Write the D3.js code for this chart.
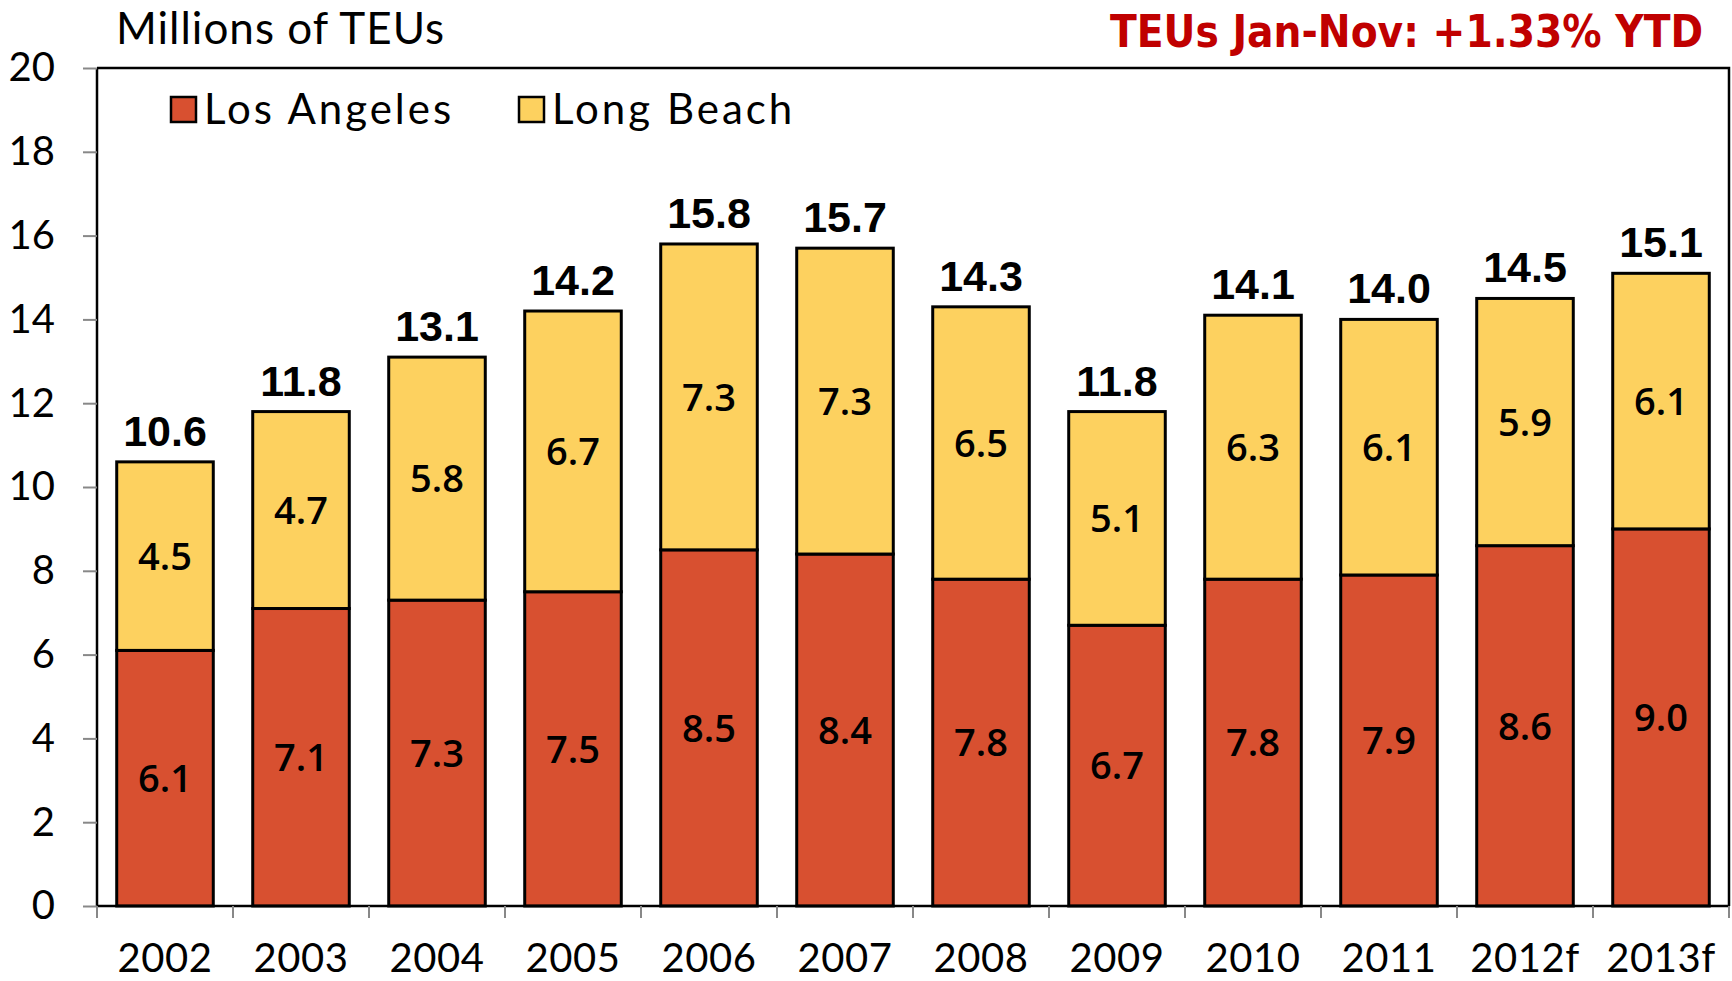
<!DOCTYPE html>
<html>
<head>
<meta charset="utf-8">
<script src="https://cdn.jsdelivr.net/npm/d3@7"></script>
<style>
  body { margin: 0; background: #fff; }
  svg { display: block; }
</style>
</head>
<body>
<div id="chart"></div>
<script>
// port container volumes, millions of TEUs
var years = ['2002', '2003', '2004', '2005', '2006', '2007', '2008', '2009', '2010', '2011', '2012f', '2013f'];
var losAngeles = [6.1, 7.1, 7.3, 7.5, 8.5, 8.4, 7.8, 6.7, 7.8, 7.9, 8.6, 9.0];
var longBeach  = [4.5, 4.7, 5.8, 6.7, 7.3, 7.3, 6.5, 5.1, 6.3, 6.1, 5.9, 6.1];
var yTicks = [0, 2, 4, 6, 8, 10, 12, 14, 16, 18, 20];
var seriesNames = ['Los Angeles', 'Long Beach'];

var colors = { la: '#d85030', lb: '#fdd15f' };
var labelFont = 'Lato, "Open Sans", sans-serif';

var W = 1732, H = 981;
var margin = { top: 68, right: 3, bottom: 75, left: 97 };

var svg = d3.select('#chart').append('svg')
  .attr('width', W)
  .attr('height', H);

var x = d3.scaleBand()
  .domain(years)
  .range([margin.left, W - margin.right])
  .paddingInner(0.29)
  .paddingOuter(0.145);

var y = d3.scaleLinear()
  .domain([0, 20])
  .range([H - margin.bottom, margin.top]);

var rows = years.map(function(yr, i) {
  return { year: yr, la: losAngeles[i], lb: longBeach[i], total: losAngeles[i] + longBeach[i] };
});

// frame (top + right)
svg.append('path')
  .attr('d', 'M' + margin.left + ',' + y(20) + 'H' + (W - margin.right) + 'V' + y(0))
  .attr('fill', 'none')
  .attr('stroke', '#000')
  .attr('stroke-width', 2.5);

// bars
var g = svg.append('g');
g.selectAll('rect.la')
  .data(rows)
  .enter().append('rect')
  .attr('class', 'la')
  .attr('x', function(d) { return x(d.year); })
  .attr('width', x.bandwidth())
  .attr('y', function(d) { return y(d.la); })
  .attr('height', function(d) { return y(0) - y(d.la); })
  .attr('fill', colors.la)
  .attr('stroke', '#000')
  .attr('stroke-width', 3);

g.selectAll('rect.lb')
  .data(rows)
  .enter().append('rect')
  .attr('class', 'lb')
  .attr('x', function(d) { return x(d.year); })
  .attr('width', x.bandwidth())
  .attr('y', function(d) { return y(d.total); })
  .attr('height', function(d) { return y(d.la) - y(d.total); })
  .attr('fill', colors.lb)
  .attr('stroke', '#000')
  .attr('stroke-width', 3);

// segment labels
g.selectAll('text.lav')
  .data(rows)
  .enter().append('text')
  .attr('x', function(d) { return x(d.year) + x.bandwidth() / 2; })
  .attr('y', function(d) { return (y(0) + y(d.la)) / 2; })
  .attr('dy', '0.36em')
  .attr('text-anchor', 'middle')
  .style('font', '600 38px "Open Sans", sans-serif')
  .text(function(d) { return d.la.toFixed(1); });

g.selectAll('text.lbv')
  .data(rows)
  .enter().append('text')
  .attr('x', function(d) { return x(d.year) + x.bandwidth() / 2; })
  .attr('y', function(d) { return (y(d.la) + y(d.total)) / 2; })
  .attr('dy', '0.36em')
  .attr('text-anchor', 'middle')
  .style('font', '600 38px "Open Sans", sans-serif')
  .text(function(d) { return d.lb.toFixed(1); });

// totals
g.selectAll('text.tot')
  .data(rows)
  .enter().append('text')
  .attr('x', function(d) { return x(d.year) + x.bandwidth() / 2; })
  .attr('y', function(d) { return y(d.total) - 16; })
  .attr('text-anchor', 'middle')
  .style('font', 'bold 43px "Liberation Sans", Arial, sans-serif')
  .text(function(d) { return d.total.toFixed(1); });

// y axis
var yAxis = d3.axisLeft(y)
  .tickValues(yTicks)
  .tickSize(14)
  .tickPadding(28)
  .tickFormat(d3.format('d'));

var ya = svg.append('g')
  .attr('transform', 'translate(' + margin.left + ',0)')
  .call(yAxis);
ya.select('.domain').attr('stroke', '#000').attr('stroke-width', 2.5)
  .attr('d', 'M0,' + y(0) + 'V' + y(20));
ya.selectAll('.tick line').attr('stroke', '#888').attr('stroke-width', 2);
ya.selectAll('.tick text').style('font', '40px ' + labelFont).attr('fill', '#000');

// x axis - ticks sit between categories
var step = x.step();
var xa = svg.append('g')
  .attr('transform', 'translate(0,' + y(0) + ')');
xa.append('line')
  .attr('x1', margin.left).attr('x2', W - margin.right)
  .attr('stroke', '#000').attr('stroke-width', 2.5);
var bounds = d3.range(years.length + 1).map(function(i) { return margin.left + i * step; });
xa.selectAll('line.tk')
  .data(bounds)
  .enter().append('line')
  .attr('class', 'tk')
  .attr('x1', function(d) { return d; }).attr('x2', function(d) { return d; })
  .attr('y1', 0).attr('y2', 12)
  .attr('stroke', '#888').attr('stroke-width', 2);
xa.selectAll('text')
  .data(years)
  .enter().append('text')
  .attr('x', function(d) { return x(d) + x.bandwidth() / 2; })
  .attr('y', 66)
  .attr('text-anchor', 'middle')
  .style('font', '40px ' + labelFont)
  .style('letter-spacing', '0.5px')
  .text(function(d) { return d; });

// titles
svg.append('text')
  .attr('x', 116).attr('y', 44)
  .style('font', '44px ' + labelFont)
  .style('letter-spacing', '1px')
  .text('Millions of TEUs');

svg.append('text')
  .attr('x', 1110).attr('y', 47)
  .attr('fill', '#c00000')
  .attr('textLength', 593)
  .attr('lengthAdjust', 'spacingAndGlyphs')
  .style('font', 'bold 44px "Liberation Sans Narrow", "DejaVu Sans Condensed", sans-serif')
  .text('TEUs Jan-Nov: +1.33% YTD');

// legend
var legendX = [171, 519];
var leg = svg.append('g').selectAll('g')
  .data(seriesNames)
  .enter().append('g')
  .attr('transform', function(d, i) { return 'translate(' + legendX[i] + ',97)'; });
leg.append('rect')
  .attr('width', 25).attr('height', 25)
  .attr('fill', function(d, i) { return i === 0 ? colors.la : colors.lb; })
  .attr('stroke', '#000').attr('stroke-width', 2.5);
leg.append('text')
  .attr('x', 33).attr('y', 27)
  .style('font', '42px ' + labelFont)
  .style('letter-spacing', '3px')
  .text(function(d) { return d; });
</script>
</body>
</html>
